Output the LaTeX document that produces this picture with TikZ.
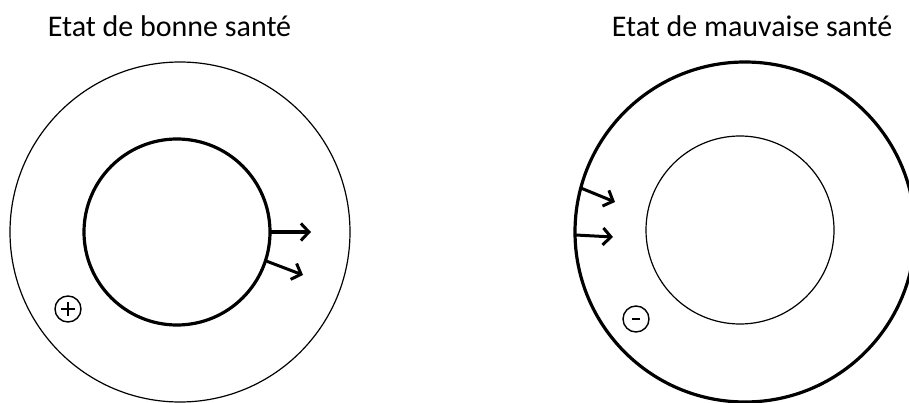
\documentclass[tikz,border=0pt]{standalone}
\usepackage{fontspec}
\setmainfont{Carlito}
\usetikzlibrary{arrows.meta}
\begin{document}
\begin{tikzpicture}[x=1pt,y=-1pt,
  ring/.style={circle,draw,outer sep=0pt,inner sep=0pt,line width=1.2pt},
  thickring/.style={ring,line width=3.2pt},
  sign/.style={circle,draw,outer sep=0pt,inner sep=0pt,minimum size=26pt,line width=1.4pt},
  flow/.style={line width=3pt,-{Straight Barb[length=8pt,width=17pt,line width=3pt]}},
  title/.style={font=\fontsize{30}{34}\selectfont,anchor=base}]
\useasboundingbox (0,0) rectangle (909,403);
\clip (0,0) rectangle (909,403);
\fill[white] (0,0) rectangle (909,403);
% left
\node[title] (tL) at (169.5,37) {Etat de bonne santé};
\node[ring,minimum size=340pt] (oL) at (180,232) {};
\node[thickring,minimum size=186pt] (iL) at (177,232) {};
\coordinate (aL1) at (311,232);
\coordinate (aL2) at (303,275);
\draw[flow] (iL.0) -- (aL1);
\draw[flow] (iL.-18) -- (aL2);
\node[sign] (plus) at (68,309) {};
\draw[line width=2.2pt] ([xshift=-7pt]plus.center) -- ([xshift=7pt]plus.center)
  ([yshift=-7pt]plus.center) -- ([yshift=7pt]plus.center);
% right
\node[title] (tR) at (752,37) {Etat de mauvaise santé};
\node[thickring,minimum size=340pt] (oR) at (745,232) {};
\node[ring,minimum size=188pt] (iR) at (740,230) {};
\coordinate (aR1) at (615,202);
\coordinate (aR2) at (613,237);
\draw[flow] (oR.165) -- (aR1);
\draw[flow] (oR.181.7) -- (aR2);
\node[sign] (minus) at (636,319) {};
\draw[line width=2.4pt] ([xshift=-4pt]minus.center) -- ([xshift=4pt]minus.center);
\end{tikzpicture}
\end{document}
